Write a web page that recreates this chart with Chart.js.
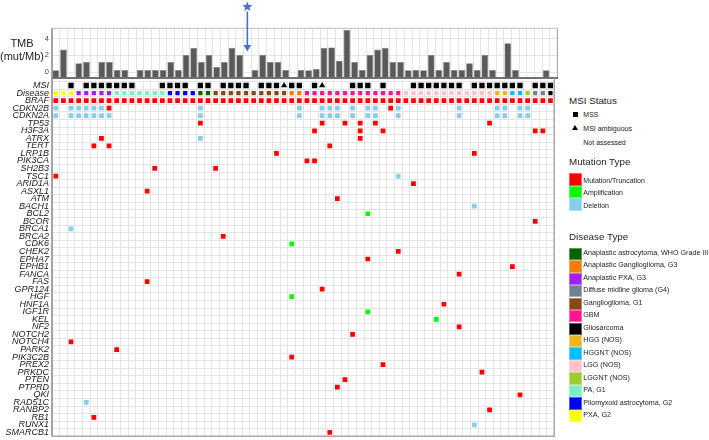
<!DOCTYPE html>
<html><head><meta charset="utf-8">
<script src="https://cdn.jsdelivr.net/npm/chart.js@4.4.1/dist/chart.umd.min.js"></script>
<style>
html,body{margin:0;padding:0;background:#fff;}
body{width:709px;height:440px;position:relative;overflow:hidden;font-family:"Liberation Sans",Arial,sans-serif;color:#222;}
canvas{position:absolute;left:0;}
#topChart{top:0;}
#bottomChart{top:78px;}
.t{position:absolute;white-space:nowrap;transform:translateY(-50%);line-height:1;}
.c{transform:translate(-50%,-50%);}
.sw{position:absolute;box-sizing:border-box;border:1px solid rgba(255,255,255,0.35);}
</style></head>
<body>
<canvas id="topChart" width="558" height="80"></canvas>
<canvas id="bottomChart" width="558" height="362"></canvas>
<div id="legend"></div>
<script>
// ---------- DATA ----------
const samples = Array.from({length: 66}, (_, i) => 'S' + (i + 1));

const tmbTicks = [0, 1, 2, 3, 4, 5];
const tmbTickLabels = ['0', '', '2', '', '4', ''];

const tmb = [0.2, 2.7, null, 1.05, 1.2, null, 1.2, 1.2, 0.25, 0.25,
  null, 0.25, 0.25, 0.25, 0.25, 1.2, 0.25, 2.05, 2.9, 1.2,
  2.05, 0.6, 1.2, 2.9, 2.05, null, 0.25, 2.05, 1.2, 1.2,
  0.25, null, 0.25, 0.22, 0.35, 2.9, 2.95, 1.35, 5.05, 1.2,
  0.25, 2.05, 2.7, 2.9, 1.2, 1.2, 0.22, 0.25, 0.22, 2.05,
  0.25, 1.2, 0.25, 0.25, 1.05, 0.25, 2.05, 0.25, null, 3.45,
  0.25, null, null, null, 0.2, null];

const msiStatus = ['', '', 'MSS', '', 'MSS', 'MSS', 'MSS', 'MSS', 'MSS', 'MSS',
  'MSS', '', '', '', 'MSS', 'MSS', 'MSS', 'MSS', '', 'MSS',
  'MSS', '', 'MSS', 'MSS', 'MSS', 'MSS', '', 'MSS', 'MSS', 'MSS',
  'AMB', 'MSS', 'MSS', '', 'MSS', 'AMB', '', '', '', 'MSS',
  'MSS', 'MSS', '', 'MSS', '', '', '', 'MSS', 'MSS', 'MSS',
  'MSS', 'MSS', 'MSS', 'MSS', '', 'MSS', 'MSS', 'MSS', 'MSS', 'MSS',
  'MSS', 'MSS', '', 'MSS', 'MSS', 'MSS'];

const diseaseTypes = ['Anaplastic astrocytoma, WHO Grade III', 'Anaplastic Ganglioglioma, G3',
  'Anaplastic PXA, G3', 'Diffuse midline glioma (G4)', 'Ganglioglioma, G1', 'GBM', 'Gliosarcoma',
  'HGG (NOS)', 'HGGNT (NOS)', 'LGG (NOS)', 'LGGNT (NOS)', 'PA, G1', 'Pilomyxoid astrocytoma, G2', 'PXA, G2'];

// index into diseaseTypes, one per sample
const diseaseOfSample = [13, 13, 13, 2, 2, 2, 2, 2, 11, 11,
  11, 11, 11, 11, 11, 12, 12, 12, 12, 0,
  0, 4, 4, 4, 4, 4, 4, 4, 4, 4,
  4, 1, 1, 5, 5, 5, 5, 5, 5, 5,
  5, 5, 5, 5, 5, 5, 9, 9, 9, 9,
  9, 9, 9, 9, 9, 9, 9, 9, 7, 7,
  8, 8, 10, 3, 3, 6];

const genes = ['BRAF', 'CDKN2B', 'CDKN2A', 'TP53', 'H3F3A', 'ATRX', 'TERT', 'LRP1B', 'PIK3CA', 'SH2B3',
  'TSC1', 'ARID1A', 'ASXL1', 'ATM', 'BACH1', 'BCL2', 'BCOR', 'BRCA1', 'BRCA2', 'CDK6',
  'CHEK2', 'EPHA7', 'EPHB1', 'FANCA', 'FAS', 'GPR124', 'HGF', 'HNF1A', 'IGF1R', 'KEL',
  'NF2', 'NOTCH2', 'NOTCH4', 'PARK2', 'PIK3C2B', 'PREX2', 'PRKDC', 'PTEN', 'PTPRD', 'QKI',
  'RAD51C', 'RANBP2', 'RB1', 'RUNX1', 'SMARCB1'];

const rowLabels = ['MSI', 'Disease'].concat(genes);

// [gene, sample indices]
const mutations = [
  ['BRAF', [0,1,2,3,4,5,6,7,8,9,10,11,12,13,14,15,16,17,18,19,20,21,22,23,24,25,26,27,28,29,30,31,32,
    33,34,35,36,37,38,39,40,41,42,43,44,45,46,47,48,49,50,51,52,53,54,55,56,57,58,59,60,61,62,63,64,65]],
  ['CDKN2B', [7, 44]],
  ['TP53', [19, 35, 38, 40, 42, 57]],
  ['H3F3A', [34, 40, 43, 63, 64]],
  ['ATRX', [6, 40]],
  ['TERT', [5, 7, 36]],
  ['LRP1B', [29, 55]],
  ['PIK3CA', [33, 34]],
  ['SH2B3', [13, 21]],
  ['TSC1', [0]],
  ['ARID1A', [47]],
  ['ASXL1', [12]],
  ['ATM', [37]],
  ['BCOR', [63]],
  ['BRCA2', [22]],
  ['CHEK2', [45]],
  ['EPHA7', [41]],
  ['EPHB1', [60]],
  ['FANCA', [53]],
  ['FAS', [12]],
  ['GPR124', [35]],
  ['HNF1A', [51]],
  ['NF2', [53]],
  ['NOTCH2', [39]],
  ['NOTCH4', [2]],
  ['PARK2', [8]],
  ['PIK3C2B', [31]],
  ['PREX2', [43]],
  ['PRKDC', [56]],
  ['PTEN', [38]],
  ['PTPRD', [37]],
  ['QKI', [61]],
  ['RANBP2', [57]],
  ['RB1', [5]],
  ['SMARCB1', [36]]
];

const amplifications = [
  ['BCL2', [41]],
  ['CDK6', [31]],
  ['HGF', [31]],
  ['IGF1R', [41]],
  ['KEL', [50]]
];

const deletions = [
  ['CDKN2B', [0, 2, 3, 4, 5, 6, 19, 32, 35, 36, 37, 39, 41, 42, 45, 53, 58, 59, 61, 62]],
  ['CDKN2A', [0, 2, 3, 4, 5, 6, 7, 19, 32, 35, 36, 37, 39, 41, 42, 45, 53, 58, 59, 61, 62]],
  ['ATRX', [19]],
  ['TSC1', [45]],
  ['BACH1', [55]],
  ['BRCA1', [2]],
  ['RAD51C', [4]],
  ['RUNX1', [55]]
];

const markedSample = 25;
const msiLegend = ['MSS', 'MSI ambiguous', 'Not assessed'];
const mutationTypes = ['Mutation/Truncation', 'Amplification', 'Deletion'];

// ---------- STYLES ----------
const FONT = '"Liberation Sans", Arial, sans-serif';
const diseaseColors = ['#006400', '#f27c0c', '#a020f0', '#708090', '#8b4513', '#ff1493', '#000000',
  '#eeb422', '#00bfff', '#ffc0cb', '#9acd32', '#76eec6', '#0000ff', '#ffff00'];
const mutationColors = ['#ff0000', '#00ff00', '#87ceeb'];
const GRID = '#e4e4e4';

Chart.defaults.font.family = FONT;

const framePlugin = {
  id: 'frame',
  afterDraw(chart, args, o) {
    const {ctx, chartArea: a} = chart;
    ctx.save();
    (o.lines || []).forEach(([side, color, w]) => {
      ctx.strokeStyle = color; ctx.lineWidth = w;
      ctx.beginPath();
      if (side === 'top') { ctx.moveTo(a.left, a.top); ctx.lineTo(a.right, a.top); }
      if (side === 'bottom') { ctx.moveTo(a.left, a.bottom); ctx.lineTo(a.right + 0.75, a.bottom); }
      if (side === 'left') { ctx.moveTo(a.left, o.fromTop ? 0 : a.top); ctx.lineTo(a.left, a.bottom); }
      if (side === 'right') { ctx.moveTo(a.right, o.fromTop ? 0 : a.top); ctx.lineTo(a.right, a.bottom); }
      ctx.stroke();
    });
    ctx.restore();
  }
};

const markerPlugin = {
  id: 'marker',
  afterDraw(chart, args, o) {
    if (o.index == null) return;
    const {ctx} = chart;
    const x = chart.scales.x.getPixelForValue(o.index);
    const tip = chart.scales.y.getPixelForValue(o.tipValue);
    ctx.save();
    ctx.strokeStyle = o.color; ctx.fillStyle = o.color; ctx.lineWidth = 1.6;
    ctx.beginPath(); ctx.moveTo(x, o.lineTop); ctx.lineTo(x, tip - 5); ctx.stroke();
    ctx.beginPath(); ctx.moveTo(x - 3.7, tip - 6.5); ctx.lineTo(x + 3.7, tip - 6.5); ctx.lineTo(x, tip); ctx.closePath(); ctx.fill();
    ctx.beginPath();
    for (let k = 0; k < 10; k++) {
      const r = k % 2 ? o.starR * 0.42 : o.starR;
      const ang = -Math.PI / 2 + k * Math.PI / 5;
      const px = x + r * Math.cos(ang), py = o.starY + r * Math.sin(ang);
      if (k) ctx.lineTo(px, py); else ctx.moveTo(px, py);
    }
    ctx.closePath(); ctx.fill();
    ctx.restore();
  }
};

const fixAxis = s => { s.width = 52; s.paddingTop = 0; s.paddingBottom = 0; };

// ---------- TOP: TMB ----------
const yMin = -0.72, yMax = 5.25;
new Chart(document.getElementById('topChart'), {
  type: 'bar',
  data: {
    labels: samples,
    datasets: [{
      data: tmb,
      base: yMin,
      backgroundColor: '#5a5a5a',
      borderColor: '#7a7a7a',
      borderWidth: 0.6,
      barPercentage: 0.87,
      categoryPercentage: 1
    }]
  },
  options: {
    responsive: false, animation: false, devicePixelRatio: 1,
    layout: {padding: {top: 28.3, bottom: 2, left: 0, right: 0.4}},
    plugins: {
      legend: {display: false}, tooltip: {enabled: false},
      frame: {lines: [['top', '#bdbdbd', 1], ['left', '#8a8a8a', 1.5], ['right', '#a8a8a8', 1.5], ['bottom', '#707070', 2]]},
      marker: {index: markedSample, tipValue: 2.45, lineTop: 11.5, starY: 6.8, starR: 5.3, color: '#4472c4'}
    },
    scales: {
      x: {
        type: 'category', offset: true,
        ticks: {display: false},
        grid: {offset: true, color: GRID, lineWidth: 1, drawTicks: false},
        border: {display: false}
      },
      y: {
        min: yMin, max: yMax,
        afterBuildTicks: s => { s.ticks = tmbTicks.map(v => ({value: v})); },
        afterFit: fixAxis,
        ticks: {
          callback: (v) => tmbTickLabels[tmbTicks.indexOf(v)],
          font: {size: 7.5}, color: '#444', padding: 3
        },
        grid: {color: GRID, lineWidth: 1, drawTicks: false},
        border: {display: false}
      }
    }
  },
  plugins: [framePlugin, markerPlugin]
});

// ---------- BOTTOM: oncoplot ----------
const pts = list => list.flatMap(([g, cols]) => cols.map(c => ({x: samples[c], y: g})));
const mssPts = msiStatus.map((s, i) => s === 'MSS' ? {x: samples[i], y: 'MSI'} : null).filter(Boolean);
const ambPts = msiStatus.map((s, i) => s === 'AMB' ? {x: samples[i], y: 'MSI'} : null).filter(Boolean);
const diseasePts = diseaseOfSample.map((d, i) => ({x: samples[i], y: 'Disease'}));

const pointDs = (data, color, style, r) => ({
  data, pointStyle: style, pointRadius: r, pointHoverRadius: r,
  pointBackgroundColor: color, pointBorderWidth: 0, borderWidth: 0, showLine: false
});

new Chart(document.getElementById('bottomChart'), {
  type: 'scatter',
  data: {
    datasets: [
      pointDs(mssPts, '#000', 'rect', 3.75),
      pointDs(ambPts, '#000', 'triangle', 3.6),
      pointDs(diseasePts, diseaseOfSample.map(d => diseaseColors[d]), 'rect', 3.0),
      pointDs(pts(mutations), mutationColors[0], 'rect', 3.35),
      pointDs(pts(amplifications), mutationColors[1], 'rect', 3.35),
      pointDs(pts(deletions), mutationColors[2], 'rect', 3.35)
    ]
  },
  options: {
    responsive: false, animation: false, devicePixelRatio: 1,
    layout: {padding: {top: 2.2, bottom: 0.8, left: 0, right: 0.4}},
    plugins: {
      legend: {display: false}, tooltip: {enabled: false},
      frame: {fromTop: true, lines: [['left', '#8a8a8a', 1.5], ['right', '#a8a8a8', 1.5], ['bottom', '#a8a8a8', 1.5]]}
    },
    scales: {
      x: {
        type: 'category', labels: samples, offset: true,
        ticks: {display: false},
        grid: {offset: true, color: GRID, lineWidth: 1, drawTicks: false},
        border: {display: false}
      },
      y: {
        type: 'category', labels: rowLabels, offset: true,
        afterFit: fixAxis,
        ticks: {autoSkip: false, font: {size: 9, style: 'italic', lineHeight: 1}, color: '#1a1a1a', padding: 3},
        grid: {offset: true, color: GRID, lineWidth: 1, drawTicks: false},
        border: {display: false}
      }
    }
  },
  plugins: [framePlugin]
});

// ---------- HTML texts & legend ----------
const body = document.body;
function addText(txt, x, yc, size, align) {
  const d = document.createElement('div');
  d.className = 't'; d.textContent = txt;
  d.style.top = yc + 'px'; d.style.fontSize = size + 'px';
  if (align === 'right') { d.style.right = (709 - x) + 'px'; d.style.textAlign = 'right'; }
  else if (align === 'center') { d.className = 't c'; d.style.left = x + 'px'; }
  else d.style.left = x + 'px';
  body.appendChild(d);
  return d;
}
function addBox(x, y, w, h, color, cls) {
  const d = document.createElement('div');
  d.className = cls || 'sw';
  Object.assign(d.style, {position: 'absolute', left: x + 'px', top: y + 'px', width: w + 'px', height: h + 'px', background: color});
  body.appendChild(d);
  return d;
}

addText('TMB', 22, 42.5, 11, 'center');
addText('(mut/Mb)', 22, 55.5, 11, 'center');

addText('MSI Status', 569, 101, 9.8);
msiLegend.forEach((t, i) => addText(t, 583.3, 114 + i * 14, 7));
addBox(572.8, 111.5, 5, 5, '#000', 'mk');
const tri = document.createElement('div');
Object.assign(tri.style, {position: 'absolute', left: '572.3px', top: '125px', width: 0, height: 0,
  borderLeft: '3px solid transparent', borderRight: '3px solid transparent', borderBottom: '5.5px solid #000'});
body.appendChild(tri);

addText('Mutation Type', 569, 161.7, 9.8);
mutationTypes.forEach((t, i) => {
  addBox(569.3, 173.3 + i * 12.5, 12.4, 12.3, mutationColors[i]);
  addText(t, 583.3, 179.6 + i * 12.5, 7);
});

addText('Disease Type', 569, 236.7, 9.8);
diseaseTypes.forEach((t, i) => {
  addBox(569.3, 247.8 + i * 12.46, 12.4, 12.3, diseaseColors[i]);
  addText(t, 583.3, 254 + i * 12.46, 7.15);
});
</script>
</body></html>
